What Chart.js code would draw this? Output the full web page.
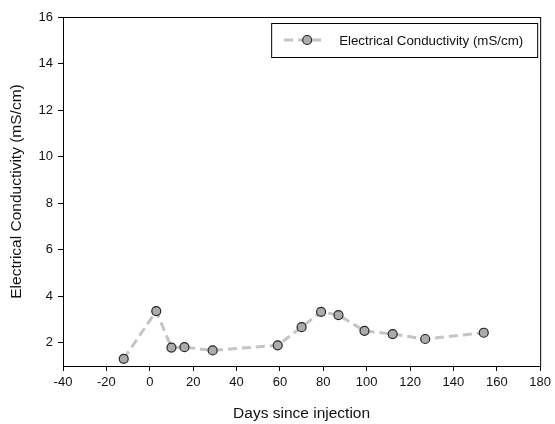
<!DOCTYPE html>
<html>
<head>
<meta charset="utf-8">
<script src="https://cdn.jsdelivr.net/npm/chart.js@4.4.1/dist/chart.umd.min.js"></script>
<style>
  html, body { margin: 0; padding: 0; background: #fff; }
  #wrap { width: 555px; height: 424px; }
</style>
</head>
<body>
<div id="wrap"><canvas id="chart" width="555" height="424"></canvas></div>
<script>
// values
const days = [-12, 3, 10, 16, 29, 59, 70, 79, 87, 99, 112, 127, 154];
const conductivity = [1.31, 3.36, 1.79, 1.81, 1.67, 1.89, 2.67, 3.33, 3.19, 2.51, 2.37, 2.16, 2.43];
const yTicks = [2, 4, 6, 8, 10, 12, 14, 16];
const xTicks = [-40, -20, 0, 20, 40, 60, 80, 100, 120, 140, 160, 180];

const lineColor = '#c4c4c4';
const markerFill = '#ababab';
const markerEdge = '#262626';
const fontFamily = '"Liberation Sans", Arial, sans-serif';

// box around the plot + the legend box in the top right corner
const frameAndLegend = {
  id: 'frameAndLegend',
  afterDraw(chart) {
    const ctx = chart.ctx;
    const a = chart.chartArea;
    ctx.save();
    ctx.strokeStyle = '#000';
    ctx.lineWidth = 1;
    ctx.strokeRect(a.left + 0.5, a.top + 0.5, a.right - a.left, a.bottom - a.top);

    const bx = a.right - 269, by = a.top + 6, bw = 266, bh = 34;
    ctx.strokeRect(bx + 0.5, by + 0.5, bw, bh);
    const cy = by + bh / 2;
    ctx.strokeStyle = lineColor;
    ctx.lineWidth = 3;
    ctx.setLineDash([9, 5]);
    ctx.beginPath();
    ctx.moveTo(bx + 13, cy);
    ctx.lineTo(bx + 53, cy);
    ctx.stroke();
    ctx.setLineDash([]);
    ctx.beginPath();
    ctx.arc(bx + 36, cy, 4.5, 0, Math.PI * 2);
    ctx.fillStyle = markerFill;
    ctx.fill();
    ctx.strokeStyle = markerEdge;
    ctx.lineWidth = 1.2;
    ctx.stroke();
    ctx.fillStyle = '#111';
    ctx.font = '13.3px ' + fontFamily;
    ctx.textBaseline = 'middle';
    ctx.fillText(chart.data.datasets[0].label, bx + 68, cy + 1);
    ctx.restore();
  }
};

const ctx = document.getElementById('chart').getContext('2d');
const chart = new Chart(ctx, {
  type: 'line',
  data: {
    datasets: [{
      label: 'Electrical Conductivity (mS/cm)',
      data: days.map((d, i) => ({x: d, y: conductivity[i]})),
      borderColor: lineColor,
      borderWidth: 3,
      borderDash: [9, 5],
      tension: 0,
      pointRadius: 4.5,
      pointBackgroundColor: markerFill,
      pointBorderColor: markerEdge,
      pointBorderWidth: 1.2
    }]
  },
  options: {
    responsive: false,
    animation: false,
    layout: { padding: { left: 0, top: 17, right: 14, bottom: 0 } },
    plugins: {
      legend: { display: false },
      tooltip: { enabled: false }
    },
    scales: {
      x: {
        type: 'linear',
        min: -40,
        max: 180,
        afterBuildTicks: axis => { axis.ticks = xTicks.map(v => ({value: v})); },
        afterFit: axis => { axis.height = 58; },
        grid: { drawOnChartArea: false, drawTicks: true, tickLength: 5, color: '#000' },
        border: { display: true, color: '#000', width: 1 },
        ticks: {
          color: '#111',
          padding: 4,
          maxRotation: 0,
          font: { family: fontFamily, size: 13 }
        },
        title: {
          display: true,
          text: 'Days since injection',
          color: '#111',
          padding: { top: 8, bottom: 1 },
          font: { family: fontFamily, size: 15.5 }
        }
      },
      y: {
        type: 'linear',
        min: 1,
        max: 16,
        afterBuildTicks: axis => { axis.ticks = yTicks.map(v => ({value: v})); },
        afterFit: axis => { axis.width = 63; },
        grid: { drawOnChartArea: false, drawTicks: true, tickLength: 5, color: '#000' },
        border: { display: true, color: '#000', width: 1 },
        ticks: {
          color: '#111',
          padding: 5,
          font: { family: fontFamily, size: 13 }
        },
        title: {
          display: true,
          text: 'Electrical Conductivity (mS/cm)',
          color: '#111',
          padding: { top: 7, bottom: 0 },
          font: { family: fontFamily, size: 15.5 }
        }
      }
    }
  },
  plugins: [frameAndLegend]
});
</script>
</body>
</html>
